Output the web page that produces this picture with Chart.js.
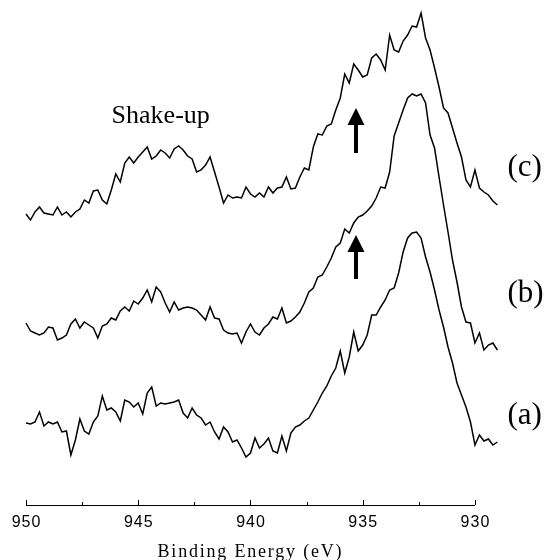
<!DOCTYPE html>
<html>
<head>
<meta charset="utf-8">
<title>XPS spectra</title>
<script src="https://cdn.jsdelivr.net/npm/chart.js@4.4.0/dist/chart.umd.min.js"></script>
<style>
  html, body { margin: 0; padding: 0; background: #fff; }
  canvas { display: block; }
</style>
</head>
<body>
<canvas id="xpsChart" width="547" height="560"></canvas>
<script>
// Binding energy grid (eV)
const bindingEnergy = [
  950.0, 949.8, 949.6, 949.4, 949.2, 949.0, 948.8, 948.6, 948.4, 948.2,
  948.0, 947.8, 947.6, 947.4, 947.2, 947.0, 946.8, 946.6, 946.4, 946.2,
  946.0, 945.8, 945.6, 945.4, 945.2, 945.0, 944.8, 944.6, 944.4, 944.2,
  944.0, 943.8, 943.6, 943.4, 943.2, 943.0, 942.8, 942.6, 942.4, 942.2,
  942.0, 941.8, 941.6, 941.4, 941.2, 941.0, 940.8, 940.6, 940.4, 940.2,
  940.0, 939.8, 939.6, 939.4, 939.2, 939.0, 938.8, 938.6, 938.4, 938.2,
  938.0, 937.8, 937.6, 937.4, 937.2, 937.0, 936.8, 936.6, 936.4, 936.2,
  936.0, 935.8, 935.6, 935.4, 935.2, 935.0, 934.8, 934.6, 934.4, 934.2,
  934.0, 933.8, 933.6, 933.4, 933.2, 933.0, 932.8, 932.6, 932.4, 932.2,
  932.0, 931.8, 931.6, 931.4, 931.2, 931.0, 930.8, 930.6, 930.4, 930.2,
  930.0, 929.8, 929.6, 929.4, 929.2, 929.0
];

// Intensities (arb. units, offset stacked)
const spectrumA = [
  82, 81, 83, 93, 79, 83, 81, 83, 73, 74,
  50, 65, 86, 74, 71, 83, 89, 109, 95, 97,
  93, 84, 105, 103, 98, 102, 91, 112, 118, 99,
  102, 101, 102, 103, 105, 92, 87, 97, 90, 87,
  80, 83, 73, 66, 78, 73, 63, 65, 57, 48,
  52, 67, 57, 61, 67, 54, 52, 69, 54, 72,
  78, 80, 84, 87, 95, 103, 112, 119, 129, 137,
  154, 132, 148, 173, 154, 160, 170, 190, 190, 198,
  205, 215, 217, 232, 253, 267, 272, 273, 267, 248,
  233, 215, 195, 178, 158, 142, 122, 110, 98, 83,
  60, 70, 64, 66, 60, 63
];

const spectrumB = [
  182, 174, 172, 170, 172, 178, 177, 165, 167, 170,
  181, 186, 177, 183, 180, 177, 167, 179, 181, 187,
  185, 194, 198, 194, 204, 201, 207, 215, 203, 218,
  213, 202, 193, 203, 195, 197, 198, 197, 195, 190,
  185, 198, 187, 186, 175, 172, 171, 172, 162, 173,
  181, 173, 170, 177, 181, 188, 186, 197, 182, 184,
  188, 193, 202, 213, 217, 228, 230, 238, 247, 258,
  262, 276, 272, 282, 288, 290, 294, 299, 307, 318,
  317, 333, 369, 382, 395, 407, 411, 409, 411, 402,
  370, 357, 328, 300, 273, 245, 223, 198, 183, 182,
  162, 172, 155, 160, 162, 155
];

const spectrumC = [
  291, 285, 293, 298, 292, 291, 290, 298, 290, 293,
  288, 293, 296, 305, 302, 314, 315, 305, 301, 315,
  331, 323, 342, 348, 342, 348, 353, 358, 346, 349,
  355, 352, 347, 356, 359, 355, 349, 346, 333, 335,
  340, 348, 333, 318, 302, 310, 307, 308, 307, 318,
  311, 308, 312, 308, 318, 312, 317, 318, 328, 316,
  317, 328, 337, 335, 358, 371, 370, 379, 381, 395,
  407, 431, 422, 441, 435, 428, 430, 447, 451, 445,
  435, 470, 455, 453, 464, 470, 479, 478, 492, 467,
  455, 437, 418, 397, 392, 377, 362, 348, 325, 318,
  335, 317, 313, 310, 304, 300
];

const majorTicks = [950, 945, 940, 935, 930];
const minorTicks = [947.5, 942.5, 937.5, 932.5];
const axisTitle = 'Binding Energy (eV)';
const curveLabels = ['(a)', '(b)', '(c)'];
const shakeUpLabel = 'Shake-up';

const toPoints = values => values.map((v, i) => ({ x: bindingEnergy[i], y: v }));

// axis, labels and arrows drawn on top of the spectra
const xpsDecorations = {
  id: 'xpsDecorations',
  afterDraw(chart) {
    const { ctx, chartArea, scales: { x, y } } = chart;
    const base = Math.round(y.getPixelForValue(0));

    ctx.save();
    ctx.strokeStyle = '#000';
    ctx.fillStyle = '#000';
    ctx.lineWidth = 1;

    // bottom axis with ticks pointing up
    ctx.beginPath();
    ctx.moveTo(x.getPixelForValue(950), base + 0.5);
    ctx.lineTo(x.getPixelForValue(930), base + 0.5);
    majorTicks.forEach(t => {
      const px = Math.round(x.getPixelForValue(t)) + 0.5;
      ctx.moveTo(px, base);
      ctx.lineTo(px, base - 5);
    });
    minorTicks.forEach(t => {
      const px = Math.round(x.getPixelForValue(t)) + 0.5;
      ctx.moveTo(px, base);
      ctx.lineTo(px, base - 3);
    });
    ctx.stroke();

    ctx.font = '16px "Liberation Sans", Arial, sans-serif';
    ctx.letterSpacing = '1px';
    ctx.textAlign = 'center';
    ctx.textBaseline = 'alphabetic';
    majorTicks.forEach(t => {
      ctx.fillText(String(t), x.getPixelForValue(t) + 0.5, base + 22);
    });

    ctx.font = '18px "Liberation Serif", "Times New Roman", serif';
    ctx.letterSpacing = '1.8px';
    const mid = (x.getPixelForValue(950) + x.getPixelForValue(930)) / 2;
    ctx.fillText(axisTitle, mid, base + 52);

    // curve labels
    ctx.letterSpacing = '0px';
    ctx.textAlign = 'left';
    ctx.font = '31px "Liberation Serif", "Times New Roman", serif';
    const labelY = [81, 203, 329];
    curveLabels.forEach((txt, i) => {
      ctx.fillText(txt, chartArea.right + 10, y.getPixelForValue(labelY[i]));
    });

    ctx.textAlign = 'center';
    ctx.font = '26px "Liberation Serif", "Times New Roman", serif';
    ctx.fillText(shakeUpLabel, x.getPixelForValue(944), y.getPixelForValue(382));

    // arrows at the satellite shoulder
    const ax = x.getPixelForValue(935.3);
    [[397, 352], [270, 226]].forEach(([tip, tail]) => {
      const tipPx = y.getPixelForValue(tip);
      const tailPx = y.getPixelForValue(tail);
      ctx.beginPath();
      ctx.moveTo(ax, tipPx);
      ctx.lineTo(ax + 8.5, tipPx + 17);
      ctx.lineTo(ax + 2, tipPx + 17);
      ctx.lineTo(ax + 2, tailPx);
      ctx.lineTo(ax - 2, tailPx);
      ctx.lineTo(ax - 2, tipPx + 17);
      ctx.lineTo(ax - 8.5, tipPx + 17);
      ctx.closePath();
      ctx.fill();
    });

    ctx.restore();
  }
};

const lineStyle = {
  borderColor: '#000',
  borderWidth: 1.5,
  pointRadius: 0,
  tension: 0,
  fill: false,
  clip: false
};

new Chart(document.getElementById('xpsChart'), {
  type: 'line',
  data: {
    datasets: [
      { label: '(a)', data: toPoints(spectrumA), ...lineStyle },
      { label: '(b)', data: toPoints(spectrumB), ...lineStyle },
      { label: '(c)', data: toPoints(spectrumC), ...lineStyle }
    ]
  },
  options: {
    responsive: false,
    devicePixelRatio: 1,
    animation: false,
    layout: { padding: { left: 26, right: 49.6, top: 0, bottom: 55 } },
    plugins: { legend: { display: false }, tooltip: { enabled: false } },
    scales: {
      x: { type: 'linear', min: 929, max: 950, reverse: true, display: false },
      y: { min: 0, max: 505, display: false }
    }
  },
  plugins: [xpsDecorations]
});
</script>
</body>
</html>
